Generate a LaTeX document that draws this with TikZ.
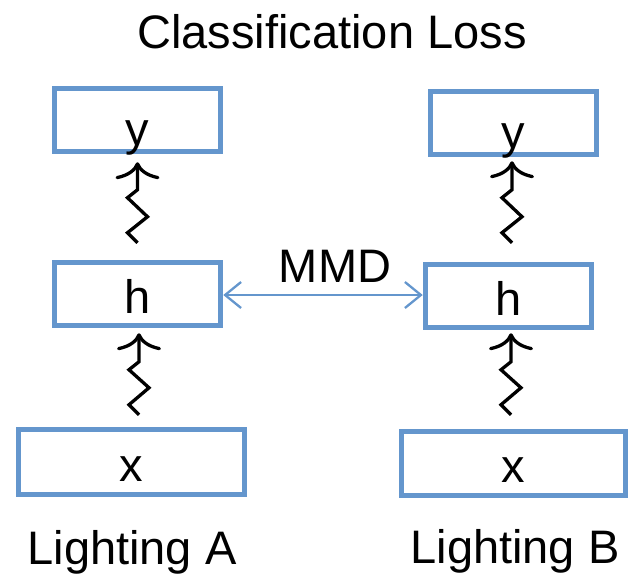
\documentclass[tikz,border=0pt]{standalone}
\usepackage{fontspec}
\setmainfont{Liberation Sans}
\usetikzlibrary{arrows.meta,calc}
\definecolor{boxblue}{RGB}{100,150,205}
\begin{document}
\begin{tikzpicture}[x=1pt,y=-1pt,
  txt/.style={font=\fontsize{47}{56}\selectfont, inner sep=0pt, text=black},
  blk/.style={draw=boxblue, line width=5.5pt, fill=white, inner sep=0pt,
    minimum width=166pt, minimum height=63pt, text height=38pt, text depth=0pt,
    font=\fontsize{47}{56}\selectfont},
  zz/.style={draw=black, line width=3.3pt, line join=miter,
    -{Computer Modern Rightarrow[length=17pt,width=44pt]}},
  mmd/.style={draw=boxblue, line width=2.3pt,
    {Straight Barb[length=16pt,width=26pt]}-{Straight Barb[length=16pt,width=26pt]}}
]
\useasboundingbox (0,0) rectangle (629,574);
% boxes
\node[blk] (yA) at (137.5,120) {\raisebox{-6pt}{y}};
\node[blk] (hA) at (137.5,294) {h};
\node[blk, minimum width=226pt, minimum height=65pt] (xA) at (131.5,462) {x};
\node[blk] (yB) at (513.5,123) {\raisebox{-6pt}{y}};
\node[blk] (hB) at (508.5,296) {h};
\node[blk, minimum width=224pt, minimum height=64pt] (xB) at (513.5,463.5) {x};
% texts
\node[txt, anchor=base] (title) at (332,48) {Classification Loss};
\node[txt, anchor=base] (mmdlabel) at (335,282) {MMD};
\node[txt, anchor=base] (lightA) at (132,564) {Lighting A};
\node[txt, anchor=base] (lightB) at (515,563) {Lighting B};
% zigzag arrows
\coordinate (zA1) at ($(hA.north)+(0,-17)$);
\coordinate (tA1) at ($(yA.south)+(0,8)$);
\draw[zz] (zA1) -- ++(-10,-10) -- ++(20,-16) -- ++(-20,-19) -- ++(10,-8) -- (tA1);
\coordinate (zA2) at ($(hA.south |- xA.north)+(1.5,-12)$);
\coordinate (tA2) at ($(hA.south)+(1.5,5)$);
\draw[zz] (zA2) -- ++(-10,-10) -- ++(20,-17) -- ++(-20,-18) -- ++(10,-8) -- (tA2);
\coordinate (zB1) at ($(hB.north)+(3.5,-19)$);
\coordinate (tB1) at ($(yB.south)+(-1.5,4)$);
\draw[zz] (zB1) -- ++(-10,-10) -- ++(20,-16) -- ++(-20,-19) -- ++(10,-8) -- (tB1);
\coordinate (zB2) at ($(hB.south |- xB.north)+(2.5,-14)$);
\coordinate (tB2) at ($(hB.south)+(2.5,3)$);
\draw[zz] (zB2) -- ++(-10,-10) -- ++(20,-17) -- ++(-20,-18) -- ++(10,-8) -- (tB2);
% MMD arrow
\draw[mmd] ([yshift=-1pt]hA.east) -- ([yshift=-1pt]hA.east -| hB.west);
\end{tikzpicture}
\end{document}
